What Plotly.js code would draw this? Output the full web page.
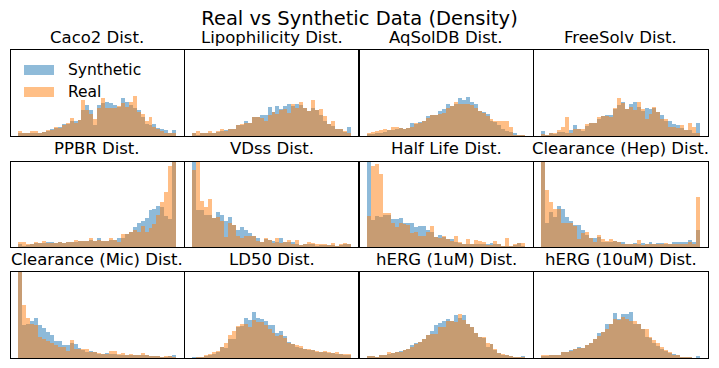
<!DOCTYPE html>
<html><head><meta charset="utf-8">
<script src="https://cdn.plot.ly/plotly-3.0.1.min.js"></script>
<style>html,body{margin:0;padding:0;background:#fff;}#chart{width:719px;height:368px;}</style>
</head><body><div id="chart"></div>
<script>
const panelTitles = ["Caco2 Dist.","Lipophilicity Dist.","AqSolDB Dist.","FreeSolv Dist.",
  "PPBR Dist.","VDss Dist.","Half Life Dist.","Clearance (Hep) Dist.",
  "Clearance (Mic) Dist.","LD50 Dist.","hERG (1uM) Dist.","hERG (10uM) Dist."];
const seriesNames = ["Synthetic","Real"];

const caco2Syn = [.04,.03,.03,.035,.04,.04,.045,.055,.085,.095,.11,.145,.145,.17,.18,.19,.30,.36,.30,.13,.36,.38,.39,.38,.36,.34,.44,.40,.36,.32,.30,.22,.145,.125,.145,.095,.085,.065,.04,.065];
const caco2Real = [.055,.03,.03,.055,.055,.04,.045,.065,.065,.11,.095,.125,.15,.21,.155,.19,.42,.30,.26,.2,.32,.44,.32,.33,.33,.35,.38,.34,.40,.47,.28,.26,.18,.22,.105,.085,.055,.04,.03,.03];
const lipoSyn = [.03,.016,.03,.03,.04,.035,.045,.055,.065,.085,.08,.125,.125,.17,.155,.22,.22,.24,.24,.335,.28,.35,.31,.35,.37,.35,.37,.36,.33,.29,.32,.30,.24,.17,.145,.115,.085,.085,.045,.10];
const lipoReal = [.04,.055,.03,.03,.055,.035,.055,.08,.055,.085,.08,.125,.135,.155,.155,.22,.22,.215,.18,.25,.28,.26,.30,.31,.27,.37,.33,.40,.33,.29,.42,.30,.31,.23,.145,.17,.085,.085,.055,.04];
const aqsolSyn = [.023,.027,.03,.04,.045,.07,.07,.08,.09,.085,.09,.15,.14,.165,.18,.235,.24,.24,.29,.31,.37,.345,.37,.44,.42,.455,.39,.37,.29,.28,.26,.18,.165,.125,.085,.06,.045,.03,.015,.008];
const aqsolReal = [.035,.045,.06,.07,.08,.07,.10,.10,.09,.085,.09,.105,.15,.155,.18,.21,.24,.24,.26,.27,.32,.345,.39,.37,.37,.37,.36,.32,.29,.27,.235,.20,.18,.18,.18,.18,.105,.015,.015,.008];
const freesolvSyn = [.055,.015,.03,.025,.045,.045,.035,.065,.125,.085,.06,.115,.155,.155,.195,.23,.24,.25,.31,.36,.39,.31,.37,.40,.34,.29,.33,.31,.33,.28,.25,.17,.17,.135,.125,.095,.075,.065,.04,.15];
const freesolvReal = [.025,.015,.03,.03,.065,.11,.22,.04,.085,.085,.085,.135,.155,.155,.22,.23,.23,.22,.33,.44,.38,.31,.34,.30,.40,.31,.20,.26,.34,.28,.20,.195,.105,.105,.095,.125,.075,.15,.11,.04];
const ppbrSyn = [.03,.015,.025,.04,.045,.045,.045,.055,.055,.05,.055,.05,.055,.055,.055,.065,.07,.07,.08,.07,.11,.07,.07,.08,.08,.10,.11,.15,.17,.23,.28,.30,.34,.43,.45,.48,.47,.36,.33,1.05];
const ppbrReal = [.055,.055,.03,.04,.06,.045,.07,.045,.05,.05,.06,.05,.055,.055,.08,.07,.07,.07,.105,.07,.08,.07,.07,.11,.08,.055,.15,.155,.17,.20,.17,.24,.17,.22,.27,.37,.53,.64,.95,1.05];
const vdssSyn = [1.05,.43,.43,.375,.37,.345,.41,.375,.31,.35,.26,.20,.23,.20,.165,.13,.10,.06,.09,.08,.07,.055,.10,.055,.055,.055,.03,.025,.03,.035,.03,.015,.025,.025,.025,.02,.015,.02,.03,.03];
const vdssReal = [.90,1.05,.54,.47,.56,.345,.35,.31,.12,.28,.26,.13,.10,.125,.125,.13,.07,.055,.10,.08,.045,.10,.045,.055,.08,.03,.08,.025,.04,.055,.045,.03,.03,.03,.025,.045,.015,.04,.045,.03];
const halfSyn = [1.05,.32,.36,.355,.37,.375,.33,.33,.345,.28,.28,.28,.23,.25,.24,.20,.17,.12,.14,.12,.095,.095,.055,.045,.04,.04,.03,.035,.04,.03,.04,.045,.03,.03,.015,.015,.015,.02,.045,.015];
const halfReal = [.36,.95,.97,.855,.40,.395,.28,.23,.28,.265,.26,.16,.18,.13,.13,.17,.25,.12,.11,.13,.095,.07,.13,.055,.04,.095,.03,.08,.07,.06,.025,.025,.07,.04,.015,.10,.015,.04,.045,.045];
const hepSyn = [1.05,.28,.41,.35,.48,.45,.355,.31,.26,.26,.20,.14,.11,.10,.115,.06,.055,.055,.07,.055,.055,.03,.03,.045,.04,.045,.03,.06,.03,.045,.045,.04,.03,.055,.055,.055,.055,.08,.055,.195];
const hepReal = [1.05,.67,.53,.44,.44,.28,.28,.28,.25,.095,.16,.17,.10,.055,.14,.095,.07,.095,.07,.055,.04,.03,.03,.03,.08,.025,.03,.03,.03,.03,.03,.045,.03,.03,.03,.03,.03,.055,.03,.59];
const micSyn = [1.05,.385,.39,.43,.47,.385,.345,.30,.27,.20,.20,.15,.15,.18,.16,.12,.095,.065,.08,.065,.05,.05,.06,.05,.05,.04,.04,.035,.035,.035,.03,.03,.03,.02,.02,.02,.012,.012,.02,.035];
const micReal = [1.05,.62,.47,.39,.385,.24,.22,.20,.17,.15,.13,.13,.08,.21,.11,.105,.105,.105,.065,.065,.06,.05,.05,.08,.08,.05,.06,.035,.05,.04,.03,.06,.03,.02,.02,.02,.012,.02,.02,.015];
const ld50Syn = [.012,.012,.012,.025,.04,.05,.07,.13,.12,.22,.22,.355,.375,.47,.44,.53,.47,.45,.425,.385,.385,.29,.31,.26,.19,.16,.13,.12,.11,.095,.095,.07,.065,.075,.06,.055,.05,.05,.04,.035];
const ld50Real = [.005,.008,.012,.035,.045,.065,.08,.13,.175,.27,.31,.375,.40,.39,.36,.44,.415,.42,.385,.34,.29,.26,.27,.23,.18,.16,.15,.145,.11,.105,.095,.08,.075,.08,.065,.06,.065,.05,.045,.045];
const herg1Syn = [.02,.02,.016,.03,.035,.05,.06,.065,.08,.095,.11,.15,.17,.19,.22,.27,.31,.385,.41,.425,.455,.43,.50,.46,.50,.39,.36,.29,.25,.23,.13,.16,.095,.06,.035,.03,.02,.016,.012,.02];
const herg1Real = [.02,.02,.016,.03,.035,.065,.06,.065,.075,.095,.11,.13,.16,.19,.22,.27,.28,.28,.36,.365,.43,.43,.415,.51,.445,.39,.36,.295,.25,.25,.18,.16,.105,.06,.05,.03,.02,.016,.012,.008];
const herg10Syn = [.02,.02,.03,.035,.04,.065,.065,.09,.105,.13,.12,.15,.18,.22,.29,.30,.40,.39,.52,.455,.51,.51,.53,.40,.39,.335,.25,.23,.18,.135,.11,.08,.055,.045,.03,.016,.016,.012,.005,.02];
const herg10Real = [.035,.035,.03,.04,.04,.065,.065,.08,.105,.12,.12,.15,.175,.22,.26,.30,.34,.39,.45,.445,.475,.45,.43,.43,.395,.335,.335,.25,.21,.17,.13,.09,.065,.04,.03,.016,.016,.012,.005,.005];

const synData = [caco2Syn,lipoSyn,aqsolSyn,freesolvSyn,ppbrSyn,vdssSyn,halfSyn,hepSyn,micSyn,ld50Syn,herg1Syn,herg10Syn];
const realData = [caco2Real,lipoReal,aqsolReal,freesolvReal,ppbrReal,vdssReal,halfReal,hepReal,micReal,ld50Real,herg1Real,herg10Real];

const W = 719, H = 368;
const colPx = [[10.5,184],[184.5,358.5],[359,533],[533.5,708]];
const rowPx = [[50,136],[161.5,247],[272,358]];
const titleYPx = [37,148,259];
const colors = ["#1f77b4","#ff7f0e"];

const traces = [];
const layout = {
  width: W, height: H, margin:{l:0,r:0,t:0,b:0},
  paper_bgcolor:"#fff", plot_bgcolor:"#fff",
  barmode:"overlay", bargap:0, showlegend:false,
  font:{family:"DejaVu Sans", color:"#000"},
  title:{text:"Real vs Synthetic Data (Density)", x:0.5, xanchor:"center", yref:"container", y:1-18/H, yanchor:"middle", font:{size:19.5, family:"DejaVu Sans", color:"#000"}},
  annotations:[], shapes:[]
};
for (let p=0;p<12;p++){
  const r = Math.floor(p/4), c = p%4;
  const n = synData[p].length;
  const xs = synData[p].map((_,i)=>i);
  const ax = p===0 ? "" : String(p+1);
  [synData[p], realData[p]].forEach((ys,s)=>{
    traces.push({type:"bar", x:xs, y:ys, name:seriesNames[s], xaxis:"x"+ax, yaxis:"y"+ax,
      marker:{color:colors[s], line:{width:0}}, opacity:0.5, width:1, hoverinfo:"skip"});
  });
  const axBase = {showticklabels:false, ticks:"", showgrid:false, zeroline:false,
    showline:true, mirror:true, linecolor:"#000", linewidth:1, fixedrange:true};
  layout["xaxis"+ax] = Object.assign({}, axBase, {domain:[colPx[c][0]/W, colPx[c][1]/W], range:[-0.5-n*0.05, n-0.5+n*0.05], anchor:"y"+ax});
  layout["yaxis"+ax] = Object.assign({}, axBase, {domain:[1-rowPx[r][1]/H, 1-rowPx[r][0]/H], range:[0,1], anchor:"x"+ax});
  layout.annotations.push({text:panelTitles[p], xref:"paper", yref:"paper",
    x:(colPx[c][0]+colPx[c][1])/2/W, y:1-titleYPx[r]/H, xanchor:"center", yanchor:"middle",
    showarrow:false, font:{size:16.5, family:"DejaVu Sans", color:"#000"}});
}
// legend (drawn in first panel)
const legRows = [[65,75,70],[87,97,92]];
seriesNames.forEach((nm,s)=>{
  layout.shapes.push({type:"rect", xref:"paper", yref:"paper", x0:24/W, x1:54/W,
    y0:1-legRows[s][1]/H, y1:1-legRows[s][0]/H, fillcolor:colors[s], opacity:0.5, line:{width:0}});
  layout.annotations.push({text:nm, xref:"paper", yref:"paper", x:66/W, y:1-legRows[s][2]/H,
    xanchor:"left", yanchor:"middle", showarrow:false, font:{size:15.5, family:"DejaVu Sans", color:"#000"}});
});
Plotly.newPlot("chart", traces, layout, {staticPlot:true});
</script></body></html>
